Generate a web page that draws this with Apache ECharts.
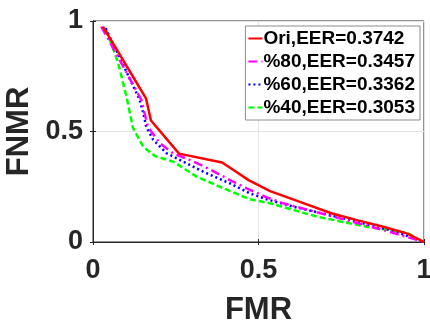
<!DOCTYPE html>
<html>
<head>
<meta charset="utf-8">
<script src="https://cdn.jsdelivr.net/npm/echarts@6/dist/echarts.min.js"></script>
<style>html,body{margin:0;padding:0;background:#fff}#c{width:430px;height:321px}</style>
</head>
<body>
<div id="c"></div>
<script>
const seriesNames = ['Ori,EER=0.3742', '%80,EER=0.3457', '%60,EER=0.3362', '%40,EER=0.3053'];
const oriX = [0.03, 0.08, 0.12, 0.16, 0.175, 0.26, 0.39, 0.43, 0.47, 0.535, 0.60, 0.65, 0.72, 0.80, 0.88, 0.95, 1.0];
const oriY = [0.975, 0.85, 0.75, 0.65, 0.55, 0.40, 0.36, 0.32, 0.28, 0.23, 0.195, 0.168, 0.13, 0.098, 0.068, 0.038, 0.0];
const p80X = [0.025, 0.06, 0.146, 0.166, 0.202, 0.243, 0.293, 0.353, 0.414, 0.464, 0.525, 0.575, 0.726, 0.877, 1.0];
const p80Y = [0.975, 0.88, 0.643, 0.52, 0.447, 0.40, 0.371, 0.329, 0.28, 0.243, 0.202, 0.175, 0.115, 0.054, 0.0];
const p60X = [0.038, 0.07, 0.141, 0.152, 0.161, 0.182, 0.223, 0.263, 0.333, 0.414, 0.474, 0.525, 0.605, 0.776, 0.907, 1.0];
const p60Y = [0.967, 0.869, 0.643, 0.582, 0.52, 0.462, 0.401, 0.371, 0.318, 0.265, 0.22, 0.193, 0.16, 0.10, 0.05, 0.0];
const p40X = [0.04, 0.076, 0.101, 0.121, 0.152, 0.187, 0.243, 0.313, 0.394, 0.474, 0.535, 0.676, 0.827, 0.948, 1.0];
const p40Y = [0.96, 0.81, 0.658, 0.515, 0.431, 0.389, 0.363, 0.296, 0.243, 0.193, 0.175, 0.115, 0.069, 0.042, 0.0];
const xTicks = [0, 0.5, 1];
const yTicks = [0, 0.5, 1];

const zip = (xs, ys) => xs.map((x, i) => [x, ys[i]]);
const FONT = 'Liberation Sans';
const TXT = '#262626';
const fmt = v => (v === 0 ? '0' : v === 1 ? '1' : String(v));

const styles = [
  { color: '#ff0000', type: 'solid', width: 2.5 },
  { color: '#ff00ff', type: [9, 4, 2, 4], width: 2.5 },
  { color: '#0000ff', type: [2, 3], width: 2.5 },
  { color: '#00ff00', type: [6, 3], width: 2.5 }
];
const datas = [zip(oriX, oriY), zip(p80X, p80Y), zip(p60X, p60Y), zip(p40X, p40Y)];

const chart = echarts.init(document.getElementById('c'), null, { renderer: 'canvas' });
chart.setOption({
  animation: false,
  backgroundColor: '#fff',
  grid: { left: 93, right: 6, top: 21, bottom: 79, show: true, borderColor: TXT, borderWidth: 1,
    backgroundColor: 'transparent', containLabel: false, outerBoundsMode: 'none' },
  legend: {
    orient: 'vertical', right: 10, top: 26,
    data: seriesNames,
    itemWidth: 14, itemHeight: 12, itemGap: 4,
    padding: [3, 5, 3, 2],
    backgroundColor: '#fff',
    borderColor: '#8c8c8c', borderWidth: 1,
    itemStyle: { color: 'transparent', borderWidth: 0, opacity: 0 },
    textStyle: { fontFamily: FONT, fontWeight: 'bold', fontSize: 19, color: '#000', padding: [0, 0, 0, -4] },
    selectedMode: false
  },
  xAxis: [{
    type: 'value', min: 0, max: 1, interval: 0.5,
    name: 'FMR', nameLocation: 'middle', nameGap: 53,
    nameTextStyle: { fontFamily: FONT, fontWeight: 'bold', fontSize: 31, color: TXT },
    axisLine: { show: true, lineStyle: { color: TXT } },
    axisTick: { show: true, inside: true, length: 3, lineStyle: { color: TXT } },
    axisLabel: { fontFamily: FONT, fontWeight: 'bold', fontSize: 27, color: TXT, margin: 15, formatter: fmt,
      customValues: xTicks },
    splitLine: { show: true, lineStyle: { color: '#e3e3e3', width: 1 } }
  }, {
    type: 'value', min: 0, max: 1, interval: 0.5, position: 'top',
    axisLine: { show: true, lineStyle: { color: TXT } },
    axisTick: { show: true, inside: true, length: 3, lineStyle: { color: TXT } },
    axisLabel: { show: false }, splitLine: { show: false }
  }],
  yAxis: [{
    type: 'value', min: 0, max: 1, interval: 0.5,
    name: 'FNMR', nameLocation: 'middle', nameGap: 51, nameRotate: 90,
    nameTextStyle: { fontFamily: FONT, fontWeight: 'bold', fontSize: 31, color: TXT },
    axisLine: { show: true, lineStyle: { color: TXT } },
    axisTick: { show: true, inside: true, length: 3, lineStyle: { color: TXT } },
    axisLabel: { fontFamily: FONT, fontWeight: 'bold', fontSize: 27, color: TXT, margin: 10, formatter: fmt,
      customValues: yTicks },
    splitLine: { show: true, lineStyle: { color: '#e3e3e3', width: 1 } }
  }, {
    type: 'value', min: 0, max: 1, interval: 0.5, position: 'right',
    axisLine: { show: true, lineStyle: { color: TXT } },
    axisTick: { show: true, inside: true, length: 3, lineStyle: { color: TXT } },
    axisLabel: { show: false }, splitLine: { show: false }
  }],
  series: seriesNames.map((n, i) => ({
    name: n, type: 'line', data: datas[i], symbol: 'none', showSymbol: false,
    xAxisIndex: 0, yAxisIndex: 0,
    lineStyle: styles[i], itemStyle: { color: styles[i].color },
    z: 10 - i
  }))
});
</script>
</body>
</html>
